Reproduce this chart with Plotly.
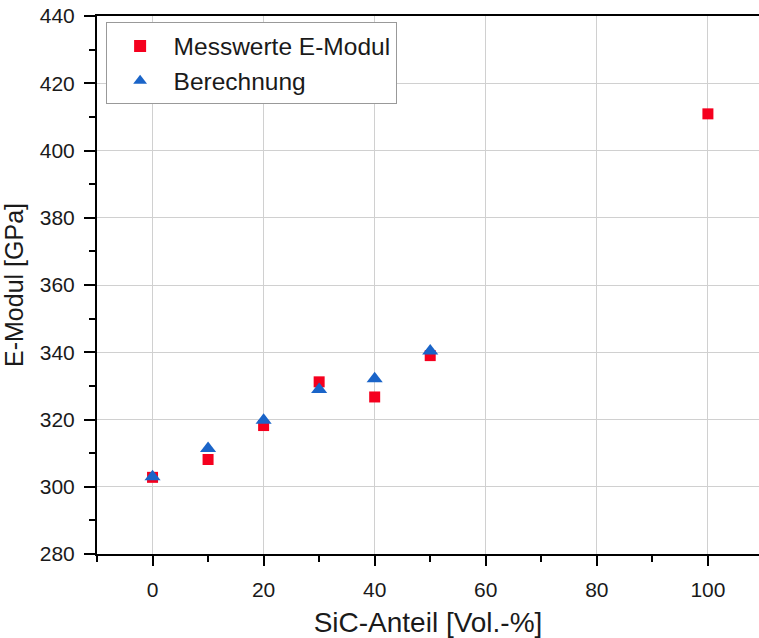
import plotly.graph_objects as go

sic = [0, 10, 20, 30, 40, 50, 100]
messwerte = [302.8, 308.1, 318.2, 331.2, 326.7, 339.0, 410.9]
sic_calc = [0, 10, 20, 30, 40, 50]
berechnung = [303.0, 311.4, 319.8, 328.9, 332.1, 340.4]

font = "Liberation Sans, Arial, sans-serif"

fig = go.Figure()
fig.add_trace(go.Scatter(x=sic, y=messwerte, mode="markers", name="Messwerte E-Modul",
                         marker=dict(symbol="square", size=11, color="#F5001E")))
fig.add_trace(go.Scatter(x=sic_calc, y=berechnung, mode="markers", name="Berechnung",
                         marker=dict(symbol="triangle-up", size=14, color="#1A64C8")))

fig.update_layout(
    width=759, height=638,
    margin=dict(l=97, r=0, t=16, b=84, autoexpand=False),
    paper_bgcolor="white", plot_bgcolor="white",
    font=dict(family=font, size=21, color="#1a1a1a"),
    legend=dict(x=0.013, y=0.988, xanchor="left", yanchor="top",
                bordercolor="#999999", borderwidth=1, bgcolor="white",
                font=dict(size=24.5, color="#1a1a1a"), itemsizing="constant",
                itemwidth=57, tracegroupgap=0),
)
fig.update_xaxes(
    range=[-10, 109.2], tickvals=[0, 20, 40, 60, 80, 100], automargin=False,
    showline=True, linecolor="black", linewidth=2, mirror=True,
    ticks="outside", ticklen=10, tickwidth=2, tickcolor="black", ticklabelstandoff=6,
    minor=dict(dtick=10, tick0=0, ticks="outside", ticklen=6, tickwidth=2, tickcolor="black", showgrid=False),
    showgrid=True, gridcolor="#D0D0D0", gridwidth=1, zeroline=False,
    title=dict(text="SiC-Anteil [Vol.-%]", font=dict(size=28), standoff=14),
)
fig.update_yaxes(
    range=[280, 440], dtick=20, tick0=280, automargin=False,
    showline=True, linecolor="black", linewidth=2,
    ticks="outside", ticklen=11, tickwidth=2, tickcolor="black", ticklabelstandoff=5,
    minor=dict(dtick=10, tick0=280, ticks="outside", ticklen=6, tickwidth=2, tickcolor="black", showgrid=False),
    showgrid=True, gridcolor="#D0D0D0", gridwidth=1, zeroline=False,
    title=dict(text="E-Modul [GPa]", font=dict(size=25), standoff=10),
)

fig.write_html("out.html", config={"displayModeBar": False},
               post_script="document.body.style.margin='0px';document.body.style.overflow='hidden';")
